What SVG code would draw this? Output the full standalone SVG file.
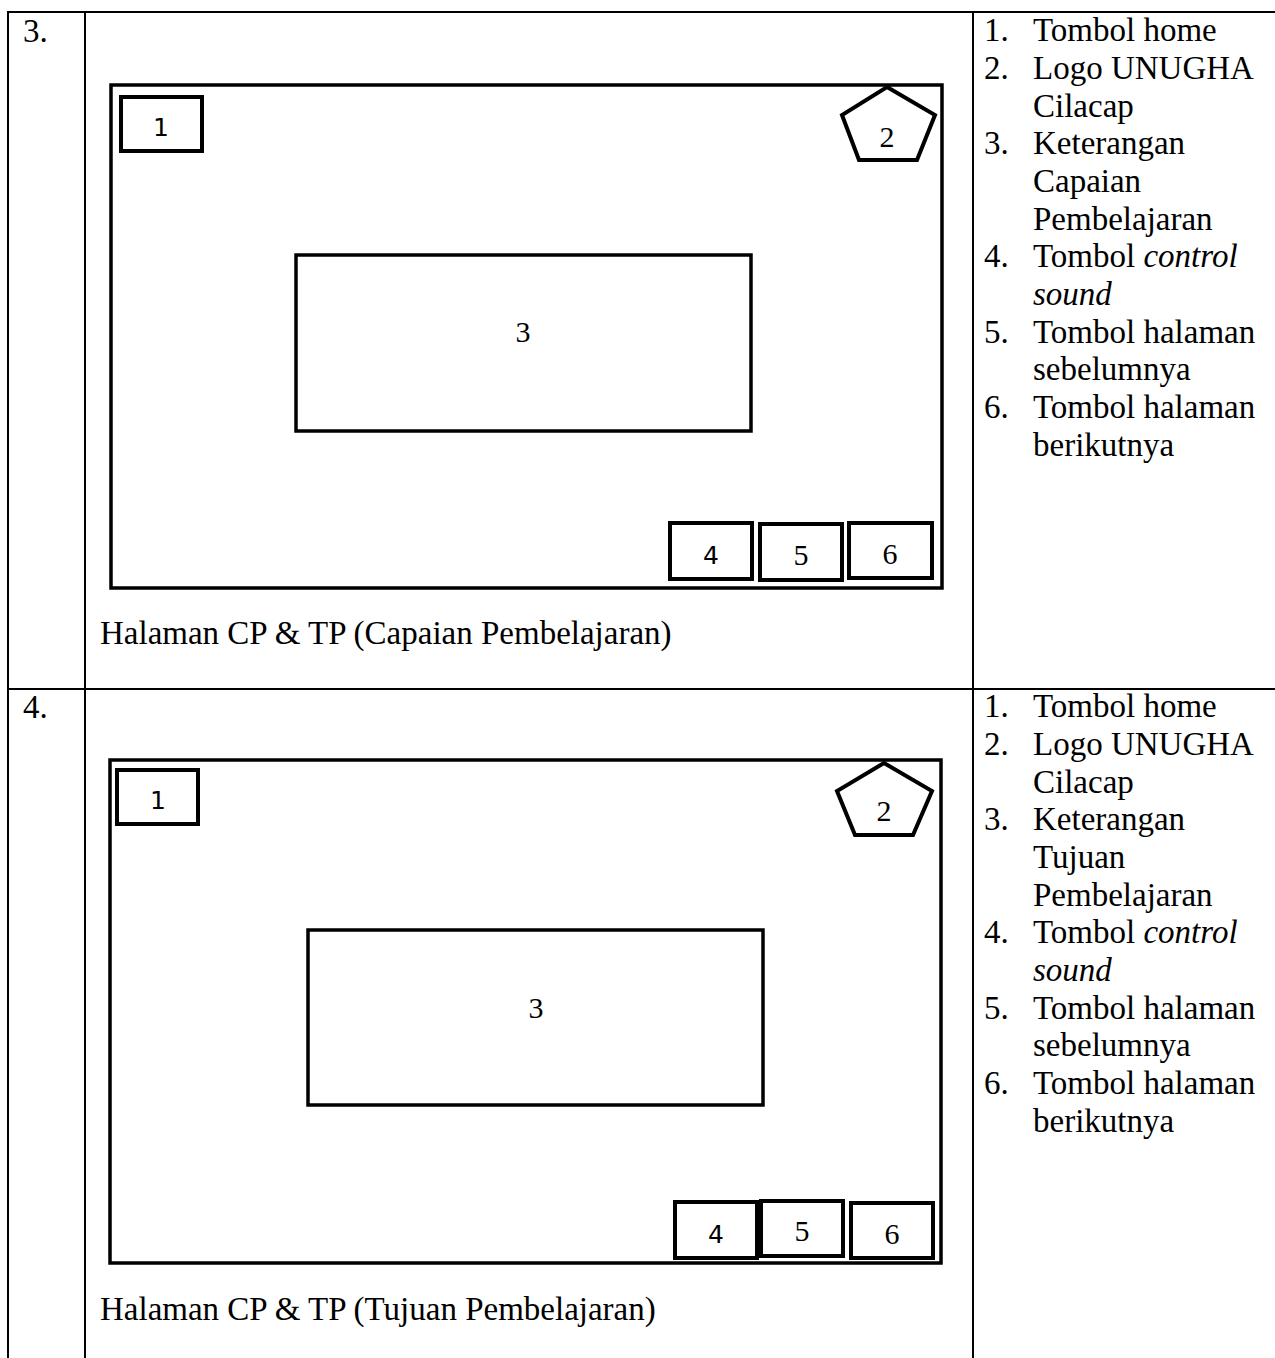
<svg xmlns="http://www.w3.org/2000/svg" width="1275" height="1358" viewBox="0 0 1275 1358">
<style>
.grid{stroke:#000;stroke-width:2;fill:none}
.frame{stroke:#000;stroke-width:3.5;fill:none}
.box{stroke:#000;stroke-width:4;fill:#fff}
.t{font-family:"Liberation Serif","Times New Roman",serif;font-size:33px;fill:#000}
.cap{font-family:"Liberation Serif","Times New Roman",serif;font-size:33px;fill:#000}
.ns{font-family:"DejaVu Sans",sans-serif;font-size:25px;fill:#000;text-anchor:middle}
.nf{font-family:"Liberation Serif","Times New Roman",serif;font-size:30px;fill:#000;text-anchor:middle}
.i{font-style:italic}
</style>
<rect width="1275" height="1358" fill="#fff"/>
<g id="table" class="grid">
<line x1="8" y1="12" x2="1275" y2="12"/>
<line x1="8" y1="689" x2="1275" y2="689"/>
<line x1="8" y1="11" x2="8" y2="1358"/>
<line x1="85" y1="11" x2="85" y2="1358"/>
<line x1="973" y1="11" x2="973" y2="1358"/>
</g>
<g id="row3">
<text class="t" x="23" y="42">3.</text>
<g id="r3-frame"><rect class="frame" x="111" y="85" width="831" height="503"/></g>
<g id="r3-n1"><rect class="box" x="121" y="97" width="81" height="54"/><text class="ns" x="161" y="136">1</text></g>
<g id="r3-n2"><polygon class="box" points="887,87 935,115 917,160 859,160 842,115"/><text class="nf" x="887" y="147">2</text></g>
<g id="r3-n3"><rect class="frame" x="296" y="255" width="455" height="176"/><text class="nf" x="523" y="342">3</text></g>
<g id="r3-n4"><rect class="box" x="670" y="523" width="82" height="56"/><text class="ns" x="711" y="564">4</text></g>
<g id="r3-n5"><rect class="box" x="760" y="524" width="82" height="56"/><text class="nf" x="801" y="565">5</text></g>
<g id="r3-n6"><rect class="box" x="849" y="523" width="83" height="55"/><text class="nf" x="890" y="564">6</text></g>
<text class="cap" x="100" y="644">Halaman CP &amp; TP (Capaian Pembelajaran)</text>
<g id="r3-legend" class="t">
<text x="984" y="41">1.</text><text x="1033" y="41">Tombol home</text>
<text x="984" y="79">2.</text><text x="1033" y="79">Logo UNUGHA</text>
<text x="1033" y="117">Cilacap</text>
<text x="984" y="154">3.</text><text x="1033" y="154">Keterangan</text>
<text x="1033" y="192">Capaian</text>
<text x="1033" y="230">Pembelajaran</text>
<text x="984" y="267">4.</text><text x="1033" y="267">Tombol <tspan class="i">control</tspan></text>
<text x="1033" y="305" class="i">sound</text>
<text x="984" y="343">5.</text><text x="1033" y="343">Tombol halaman</text>
<text x="1033" y="380">sebelumnya</text>
<text x="984" y="418">6.</text><text x="1033" y="418">Tombol halaman</text>
<text x="1033" y="456">berikutnya</text>
</g>
</g>
<g id="row4">
<text class="t" x="23" y="718">4.</text>
<g id="r4-frame"><rect class="frame" x="110" y="760" width="831" height="503"/></g>
<g id="r4-n1"><rect class="box" x="117" y="770" width="81" height="54"/><text class="ns" x="158" y="809">1</text></g>
<g id="r4-n2"><polygon class="box" points="884,763 932,791 913,835 855,835 837,791"/><text class="nf" x="884" y="821">2</text></g>
<g id="r4-n3"><rect class="frame" x="308" y="930" width="455" height="175"/><text class="nf" x="536" y="1018">3</text></g>
<g id="r4-n4"><rect class="box" x="675" y="1202" width="82" height="56"/><text class="ns" x="716" y="1243">4</text></g>
<g id="r4-n5"><rect class="box" x="761" y="1201" width="82" height="55"/><text class="nf" x="802" y="1241">5</text></g>
<g id="r4-n6"><rect class="box" x="851" y="1203" width="82" height="55"/><text class="nf" x="892" y="1244">6</text></g>
<text class="cap" x="100" y="1320">Halaman CP &amp; TP (Tujuan Pembelajaran)</text>
<g id="r4-legend" class="t">
<text x="984" y="717">1.</text><text x="1033" y="717">Tombol home</text>
<text x="984" y="755">2.</text><text x="1033" y="755">Logo UNUGHA</text>
<text x="1033" y="793">Cilacap</text>
<text x="984" y="830">3.</text><text x="1033" y="830">Keterangan</text>
<text x="1033" y="868">Tujuan</text>
<text x="1033" y="906">Pembelajaran</text>
<text x="984" y="943">4.</text><text x="1033" y="943">Tombol <tspan class="i">control</tspan></text>
<text x="1033" y="981" class="i">sound</text>
<text x="984" y="1019">5.</text><text x="1033" y="1019">Tombol halaman</text>
<text x="1033" y="1056">sebelumnya</text>
<text x="984" y="1094">6.</text><text x="1033" y="1094">Tombol halaman</text>
<text x="1033" y="1132">berikutnya</text>
</g>
</g>
</svg>
